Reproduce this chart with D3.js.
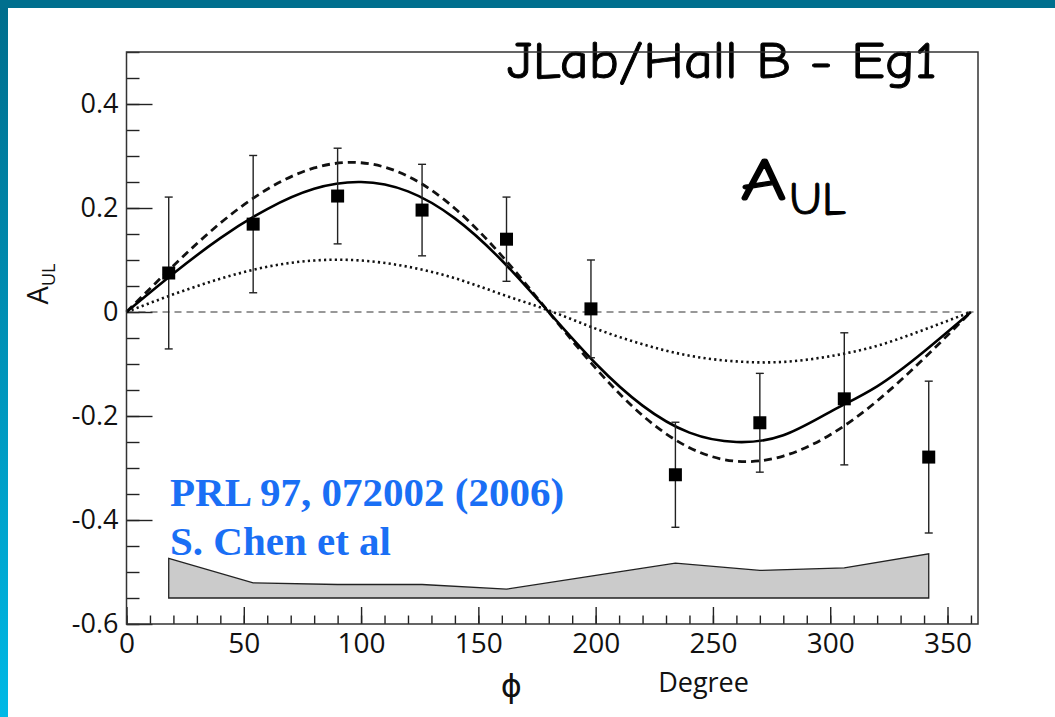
<!DOCTYPE html>
<html>
<head>
<meta charset="utf-8">
<script src="https://cdn.jsdelivr.net/npm/d3@7"></script>
<style>
  html, body { margin: 0; padding: 0; background: #fff; }
  svg { display: block; }
</style>
</head>
<body>
<svg id="chart" width="1055" height="717"></svg>
<script>
// Beam-spin / target-spin asymmetry A_UL versus azimuthal angle phi
const phi      = [18, 54, 90, 126, 162, 198, 234, 270, 306, 342];
const aul      = [0.075, 0.169, 0.223, 0.196, 0.140, 0.006, -0.313, -0.213, -0.167, -0.279];
const aulErr   = [0.146, 0.132, 0.092, 0.088, 0.081, 0.094, 0.101, 0.095, 0.127, 0.146];
// systematic uncertainty band (height above the band baseline)
const sysErr   = [0.076, 0.029, 0.026, 0.026, 0.017, 0.042, 0.067, 0.053, 0.058, 0.085];
const sysBase  = -0.55;

// model curves sampled every 20 degrees
const curvePhi = [0, 20, 40, 60, 80, 100, 120, 140, 160, 180, 200, 220, 240, 260, 280, 300, 320, 340, 360];
const fitSolid = [0, 0.074, 0.142, 0.198, 0.237, 0.250, 0.232, 0.180, 0.099, 0, -0.099, -0.180, -0.232, -0.250, -0.237, -0.192, -0.143, -0.076, 0];
const fitDash  = [0, 0.089, 0.171, 0.236, 0.277, 0.287, 0.261, 0.199, 0.108, 0, -0.108, -0.199, -0.261, -0.287, -0.277, -0.236, -0.171, -0.089, 0];
const fitDot   = [0, 0.034, 0.064, 0.087, 0.099, 0.099, 0.087, 0.065, 0.034, 0.003, -0.032, -0.062, -0.084, -0.095, -0.096, -0.085, -0.065, -0.034, 0];

const xTicks = [0, 50, 100, 150, 200, 250, 300, 350];
const yTicks = [-0.6, -0.4, -0.2, 0, 0.2, 0.4];

const svg = d3.select("#chart");
const W = 1055, H = 717;

// page decoration: top bar and left gradient bar
const defs = svg.append("defs");
const grad = defs.append("linearGradient").attr("id", "sideGrad")
  .attr("x1", 0).attr("y1", 0).attr("x2", 0).attr("y2", 1);
grad.append("stop").attr("offset", "0%").attr("stop-color", "#006d8c");
grad.append("stop").attr("offset", "100%").attr("stop-color", "#00b9e6");
svg.append("rect").attr("x", 0).attr("y", 0).attr("width", W).attr("height", H).attr("fill", "#fff");
svg.append("rect").attr("x", 0).attr("y", 0).attr("width", 8).attr("height", H).attr("fill", "url(#sideGrad)");
svg.append("rect").attr("x", 0).attr("y", 0).attr("width", W).attr("height", 8).attr("fill", "#006f8e");

const x = d3.scaleLinear().domain([0, 363]).range([126.5, 978]);
const y = d3.scaleLinear().domain([-0.6, 0.5]).range([624, 52]);

const tickFont = "'Open Sans', 'Liberation Sans', sans-serif";
const handFont = "'Comic Sans MS', 'Comic Neue', 'Lato', sans-serif";

// y axis: major + minor ticks pointing inward
const yMajor = svg.append("g").attr("transform", `translate(${x(0)},0)`)
  .call(d3.axisLeft(y).tickValues(yTicks).tickSize(-26).tickPadding(8)
    .tickFormat(d => d === 0 ? "0" : d.toFixed(1)));
yMajor.select(".domain").remove();
yMajor.selectAll("text").attr("font-family", tickFont).attr("font-size", 27).attr("fill", "#111");
yMajor.selectAll("line").attr("stroke", "#222").attr("stroke-width", 1.4);

const yMinor = svg.append("g").attr("transform", `translate(${x(0)},0)`)
  .call(d3.axisLeft(y).tickValues(d3.range(-0.6, 0.5001, 0.05)).tickSize(-13).tickFormat(""));
yMinor.select(".domain").remove();
yMinor.selectAll("line").attr("stroke", "#222").attr("stroke-width", 1.4);

// x axis
const xMajor = svg.append("g").attr("transform", `translate(0,${y(-0.6)})`)
  .call(d3.axisBottom(x).tickValues(xTicks).tickSize(-17).tickPadding(9));
xMajor.select(".domain").remove();
xMajor.selectAll("text").attr("font-family", tickFont).attr("font-size", 28).attr("fill", "#111");
xMajor.selectAll("line").attr("stroke", "#222").attr("stroke-width", 1.4);

const xMinor = svg.append("g").attr("transform", `translate(0,${y(-0.6)})`)
  .call(d3.axisBottom(x).tickValues(d3.range(0, 361, 10)).tickSize(-8.5).tickFormat(""));
xMinor.select(".domain").remove();
xMinor.selectAll("line").attr("stroke", "#222").attr("stroke-width", 1.4);

// axis titles
svg.append("text").attr("x", x(164)).attr("y", 697).attr("text-anchor", "middle")
  .attr("font-family", "'DejaVu Sans', sans-serif").attr("font-size", 32).attr("fill", "#111").text("ϕ");
svg.append("text").attr("x", x(246)).attr("y", 692).attr("text-anchor", "middle")
  .attr("font-family", tickFont).attr("font-size", 27).attr("fill", "#111").text("Degree");

const yLab = svg.append("text").attr("transform", "translate(48,284) rotate(-90)")
  .attr("text-anchor", "middle").attr("font-family", tickFont).attr("fill", "#111");
yLab.append("tspan").attr("font-size", 29).text("A");
yLab.append("tspan").attr("font-size", 18).attr("dy", 7).text("UL");

// zero reference line
svg.append("line").attr("x1", x(0)).attr("x2", 976).attr("y1", y(0)).attr("y2", y(0))
  .attr("stroke", "#333").attr("stroke-width", 1.2).attr("stroke-dasharray", "7,5");

// systematic band
const bandPts = phi.map((p, i) => [x(p), y(sysBase + sysErr[i])]);
const bandPoly = bandPts.concat([[x(phi[phi.length - 1]), y(sysBase)], [x(phi[0]), y(sysBase)]]);
svg.append("path").attr("d", d3.line()(bandPoly) + "Z")
  .attr("fill", "#cbcbcb").attr("stroke", "#222").attr("stroke-width", 1.3);

// model curves
const line = d3.line().x(d => x(d[0])).y(d => y(d[1])).curve(d3.curveNatural);
const curveData = arr => curvePhi.map((p, i) => [p, arr[i]]);
svg.append("path").attr("d", line(curveData(fitDot))).attr("fill", "none")
  .attr("stroke", "#111").attr("stroke-width", 2.6).attr("stroke-dasharray", "2.2,3.2");
svg.append("path").attr("d", line(curveData(fitDash))).attr("fill", "none")
  .attr("stroke", "#111").attr("stroke-width", 2.8).attr("stroke-dasharray", "8,5");
svg.append("path").attr("d", line(curveData(fitSolid))).attr("fill", "none")
  .attr("stroke", "#000").attr("stroke-width", 2.6);

// data points with statistical error bars
const pts = svg.append("g");
phi.forEach((p, i) => {
  const cx = x(p), lo = y(aul[i] - aulErr[i]), hi = y(aul[i] + aulErr[i]);
  pts.append("line").attr("x1", cx).attr("x2", cx).attr("y1", lo).attr("y2", hi)
    .attr("stroke", "#222").attr("stroke-width", 1.4);
  [lo, hi].forEach(v => pts.append("line").attr("x1", cx - 4).attr("x2", cx + 4)
    .attr("y1", v).attr("y2", v).attr("stroke", "#222").attr("stroke-width", 1.4));
  pts.append("rect").attr("x", cx - 6.5).attr("y", y(aul[i]) - 6.5)
    .attr("width", 13).attr("height", 13).attr("fill", "#000");
});

// reference text
const refFont = "'Liberation Serif', 'Times New Roman', serif";
svg.append("text").attr("x", 170).attr("y", 506).attr("font-family", refFont)
  .attr("font-weight", "bold").attr("font-size", 41).attr("fill", "#1a6ff5").text("PRL 97, 072002 (2006)");
svg.append("text").attr("x", 170).attr("y", 555).attr("font-family", refFont)
  .attr("font-weight", "bold").attr("font-size", 41).attr("fill", "#1a6ff5").text("S. Chen et al");

// headline labels
svg.append("text").attr("x", 507).attr("y", 78).attr("font-family", handFont)
  .attr("font-size", 52).attr("fill", "#000").attr("stroke", "#000").attr("stroke-width", 0.9)
  .attr("textLength", 430).attr("lengthAdjust", "spacingAndGlyphs").text("JLab/Hall B - Eg1");
svg.append("text").attr("x", 740).attr("y", 200).attr("font-family", handFont)
  .attr("font-size", 60).attr("fill", "#000").attr("stroke", "#000").attr("stroke-width", 1.2)
  .attr("textLength", 47).attr("lengthAdjust", "spacingAndGlyphs").text("A");
svg.append("text").attr("x", 789).attr("y", 214).attr("font-family", handFont)
  .attr("font-size", 46).attr("fill", "#000").attr("stroke", "#000").attr("stroke-width", 0.9)
  .attr("textLength", 57).attr("lengthAdjust", "spacingAndGlyphs").text("UL");

// frame
svg.append("path")
  .attr("d", `M${x(0)},${y(0.5)}H978V${y(-0.6)}H${x(0)}Z`)
  .attr("fill", "none").attr("stroke", "#333").attr("stroke-width", 1.5);
</script>
</body>
</html>
